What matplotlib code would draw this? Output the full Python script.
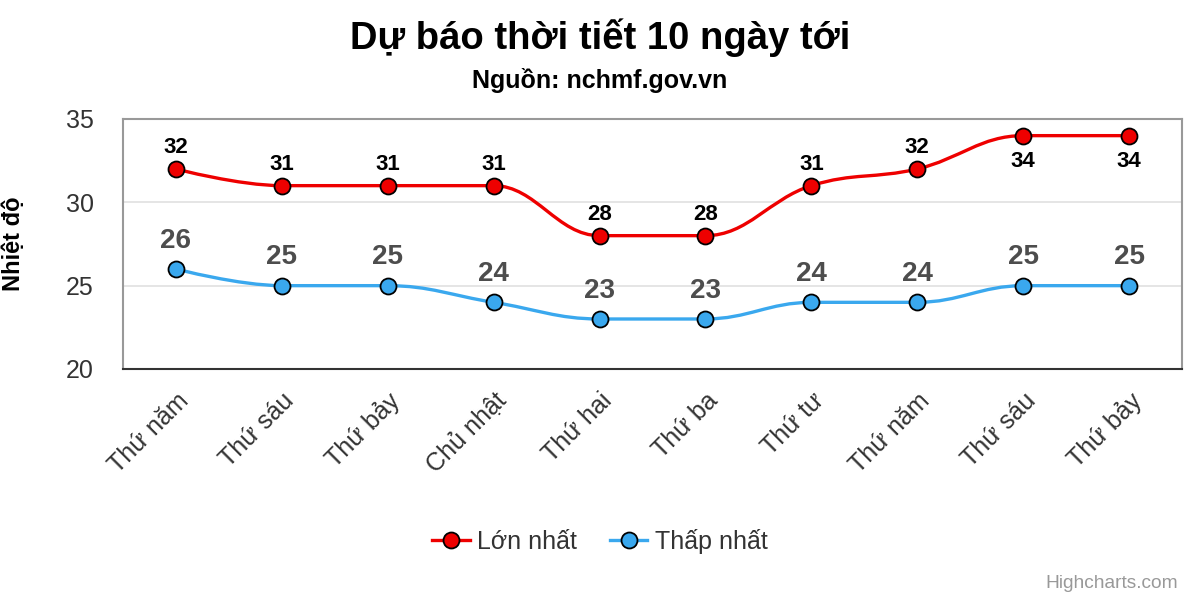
import matplotlib
matplotlib.use("Agg")
import matplotlib.pyplot as plt
from matplotlib.path import Path
from matplotlib.patches import PathPatch
from matplotlib.lines import Line2D

plt.rcParams['font.family'] = ['Liberation Sans', 'DejaVu Sans']

days = ['Thứ năm', 'Thứ sáu', 'Thứ bảy', 'Chủ nhật', 'Thứ hai',
        'Thứ ba', 'Thứ tư', 'Thứ năm', 'Thứ sáu', 'Thứ bảy']
t_max = [32, 31, 31, 31, 28, 28, 31, 32, 34, 34]
t_min = [26, 25, 25, 24, 23, 23, 24, 24, 25, 25]

RED = '#ee0000'
BLUE = '#3aa8ee'


# highcharts-like spline: cubic bezier through the data points
def spline_path(xs, ys):
    sm = 1.5
    den = sm + 1
    n = len(xs)
    left = [None] * n
    right = [None] * n
    for i in range(1, n - 1):
        px, py = xs[i], ys[i]
        lx, ly = xs[i - 1], ys[i - 1]
        nx, ny = xs[i + 1], ys[i + 1]
        lcx = (sm * px + lx) / den
        lcy = (sm * py + ly) / den
        rcx = (sm * px + nx) / den
        rcy = (sm * py + ny) / den
        corr = (rcy - lcy) * (rcx - px) / (rcx - lcx) + py - rcy
        lcy += corr
        rcy += corr
        if lcy > ly and lcy > py:
            lcy = max(ly, py)
            rcy = 2 * py - lcy
        elif lcy < ly and lcy < py:
            lcy = min(ly, py)
            rcy = 2 * py - lcy
        if rcy > ny and rcy > py:
            rcy = max(ny, py)
            lcy = 2 * py - rcy
        elif rcy < ny and rcy < py:
            rcy = min(ny, py)
            lcy = 2 * py - rcy
        left[i] = (lcx, lcy)
        right[i] = (rcx, rcy)
    verts = [(xs[0], ys[0])]
    codes = [Path.MOVETO]
    for i in range(1, n):
        c1 = right[i - 1] or (xs[i - 1], ys[i - 1])
        c2 = left[i] or (xs[i], ys[i])
        verts += [c1, c2, (xs[i], ys[i])]
        codes += [Path.CURVE4] * 3
    return Path(verts, codes)


fig = plt.figure(figsize=(12, 6), dpi=100)
ax = fig.add_axes([0.1025, 0.385, 0.8825, 0.4167])

x = list(range(len(days)))
for vals, col in [(t_max, RED), (t_min, BLUE)]:
    ax.add_patch(PathPatch(spline_path(x, vals), facecolor='none',
                           edgecolor=col, lw=2.4, zorder=3))
    ax.plot(x, vals, linestyle='none', marker='o', markersize=11.5,
            markerfacecolor=col, markeredgecolor='black', markeredgewidth=1.3, zorder=4)

# labels for max series (below the point when near the top)
for i, v in enumerate(t_max):
    if v >= 34:
        ax.annotate(str(v), (i, v), xytext=(0, -11), textcoords='offset points',
                    ha='center', va='top', fontsize=16, fontweight='bold', color='black', zorder=5)
    else:
        ax.annotate(str(v), (i, v), xytext=(0, 8), textcoords='offset points',
                    ha='center', va='bottom', fontsize=16, fontweight='bold', color='black', zorder=5)
for i, v in enumerate(t_min):
    ax.annotate(str(v), (i, v), xytext=(0, 11), textcoords='offset points',
                ha='center', va='bottom', fontsize=20, fontweight='bold', color='#4d4d4d', zorder=5)

ax.set_xlim(-0.5, 9.5)
ax.set_ylim(20, 35)
ax.set_yticks([20, 25, 30, 35])
ax.set_xticks(x)
ax.set_xticklabels(days, rotation=45, ha='right', va='top', rotation_mode='anchor')
ax.tick_params(axis='both', length=0, labelsize=18, labelcolor='#333333')
ax.tick_params(axis='x', pad=14)
ax.tick_params(axis='y', pad=21)
ax.grid(axis='y', color='#e0e0e0', linewidth=1.2)
ax.set_axisbelow(True)
for s in ['left', 'top', 'right']:
    ax.spines[s].set_color('#999999')
    ax.spines[s].set_linewidth(1.5)
ax.spines['bottom'].set_color('#333333')
ax.spines['bottom'].set_linewidth(1.5)

ax.set_ylabel('Nhiệt độ', fontsize=17, fontweight='bold')
ax.yaxis.set_label_coords(-0.093, 0.5)

fig.text(0.5, 0.938, 'Dự báo thời tiết 10 ngày tới', ha='center', va='center',
         fontsize=27.5, fontweight='bold', color='black')
fig.text(0.5, 0.866, 'Nguồn: nchmf.gov.vn', ha='center', va='center',
         fontsize=18, fontweight='bold', color='black')

handles = [Line2D([], [], color=RED, lw=2.4, marker='o', markersize=11.5,
                  markerfacecolor=RED, markeredgecolor='black', markeredgewidth=1.3),
           Line2D([], [], color=BLUE, lw=2.4, marker='o', markersize=11.5,
                  markerfacecolor=BLUE, markeredgecolor='black', markeredgewidth=1.3)]
fig.legend(handles, ['Lớn nhất', 'Thấp nhất'], loc='center', bbox_to_anchor=(0.5, 0.098),
           ncol=2, frameon=False, fontsize=18, handlelength=1.5, columnspacing=1.3,
           handletextpad=0.3, labelcolor='#333333')

fig.text(0.982, 0.028, 'Highcharts.com', ha='right', va='center', fontsize=13.8, color='#999999')

fig.savefig('out.png', dpi=100)
